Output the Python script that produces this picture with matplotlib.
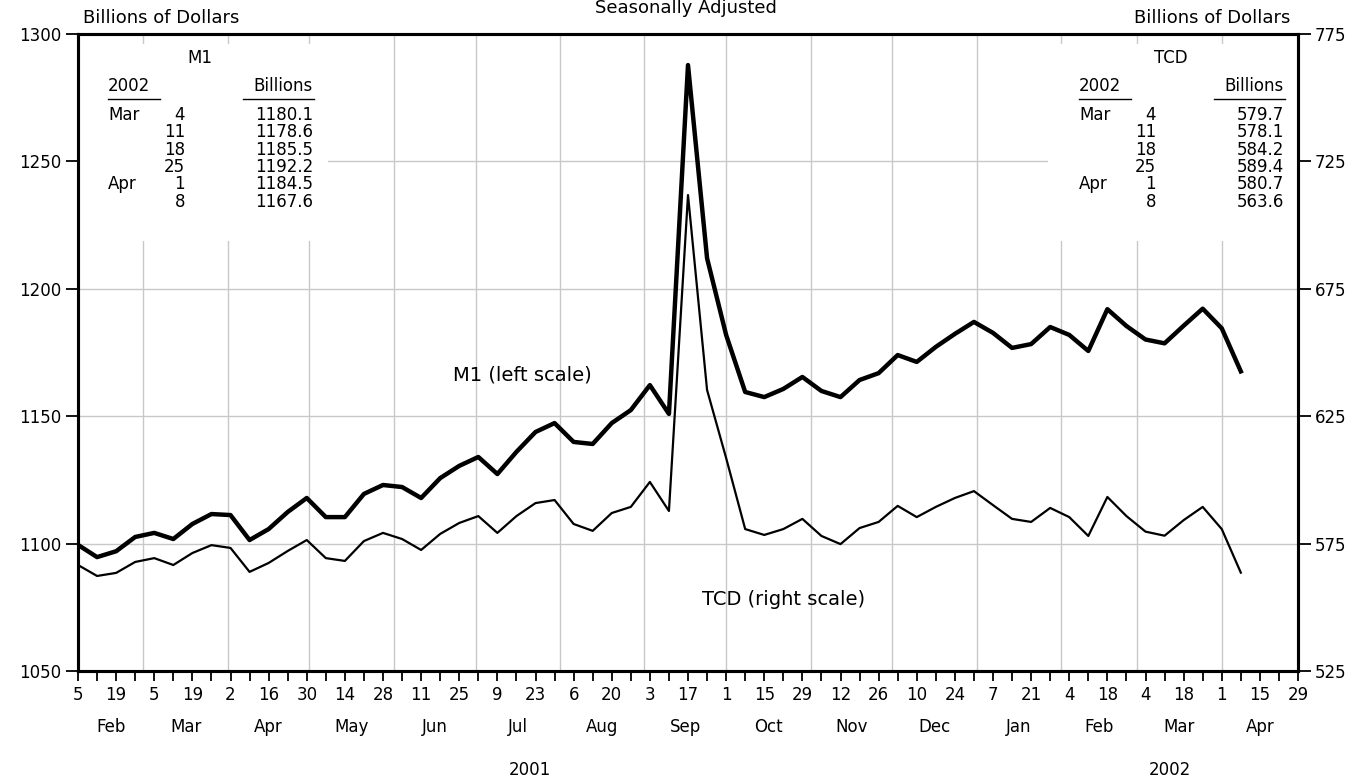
import numpy as np
import matplotlib.pyplot as plt
import matplotlib.dates as mdates
from matplotlib.patches import Rectangle
import datetime as dt

# weekly data, Feb 5 2001 .. Apr 8 2002
M1 = [1099.5, 1094.7, 1097.0, 1102.6, 1104.2, 1101.8, 1107.7, 1111.6, 1111.2, 1101.4,
      1105.7, 1112.4, 1117.9, 1110.4, 1110.4, 1119.5, 1123.0, 1122.2, 1117.9, 1125.7,
      1130.5, 1134.0, 1127.3, 1136.0, 1143.8, 1147.3, 1139.9, 1139.1, 1147.3, 1152.4,
      1162.2, 1150.9, 1287.8, 1212.0, 1181.9, 1159.5, 1157.5, 1160.7, 1165.4, 1159.9,
      1157.5, 1164.2, 1166.9, 1174.0, 1171.3, 1177.2, 1182.3, 1187.0, 1182.7, 1176.8,
      1178.3, 1185.0, 1181.9, 1175.6, 1192.0, 1185.4, 1180.1, 1178.6, 1185.5, 1192.2,
      1184.5, 1167.6]
TCD = [566.6, 562.3, 563.5, 567.8, 569.3, 566.6, 571.3, 574.4, 573.3, 563.9,
       567.4, 572.1, 576.4, 569.3, 568.2, 576.0, 579.2, 576.8, 572.5, 578.8,
       583.1, 585.8, 579.2, 585.8, 590.9, 592.1, 582.7, 580.0, 587.0, 589.4,
       599.2, 587.8, 711.8, 635.3, 608.6, 580.7, 578.4, 580.7, 584.7, 578.0,
       574.8, 581.1, 583.5, 589.8, 585.4, 589.4, 592.9, 595.6, 590.1, 584.7,
       583.5, 589.0, 585.4, 578.0, 593.3, 585.8, 579.7, 578.1, 584.2, 589.4,
       580.7, 563.6]
START = dt.date(2001, 2, 5)
dates = [START + dt.timedelta(weeks=i) for i in range(len(M1))]

M1_TABLE = [("Mar", "4", "1180.1"), ("", "11", "1178.6"), ("", "18", "1185.5"),
            ("", "25", "1192.2"), ("Apr", "1", "1184.5"), ("", "8", "1167.6")]
TCD_TABLE = [("Mar", "4", "579.7"), ("", "11", "578.1"), ("", "18", "584.2"),
             ("", "25", "589.4"), ("Apr", "1", "580.7"), ("", "8", "563.6")]

plt.rcParams['font.family'] = ['DejaVu Sans']
W, H = 1372, 782
fig = plt.figure(figsize=(W / 100, H / 100), dpi=100)
ax = fig.add_axes([78 / W, 1 - 671 / H, 1220 / W, 637 / H])
ax2 = ax.twinx()

x0 = mdates.date2num(START)
x1 = mdates.date2num(START + dt.timedelta(weeks=64))
ax.set_xlim(x0, x1)
ax.set_ylim(1050, 1300)
ax2.set_ylim(525, 775)

ax.plot(dates, M1, color="black", lw=3.2, zorder=5)
ax2.plot(dates, TCD, color="black", lw=1.6, zorder=5)

# gridlines
for v in [1100, 1150, 1200, 1250]:
    ax.axhline(v, color="#c8c8c8", lw=1, zorder=0)
d = dt.date(2001, 3, 1)
while d < dt.date(2002, 5, 1):
    ax.axvline(mdates.date2num(d), color="#c8c8c8", lw=1, zorder=0)
    d = dt.date(d.year + (d.month == 12), d.month % 12 + 1, 1)

# white boxes behind tables
ax.add_patch(Rectangle((0.0, 0.675), 0.205, 0.31, transform=ax.transAxes,
                       facecolor="white", edgecolor="none", zorder=1))
ax.add_patch(Rectangle((0.795, 0.675), 0.205, 0.31, transform=ax.transAxes,
                       facecolor="white", edgecolor="none", zorder=1))

# ticks
week_ticks = [x0 + 7 * i for i in range(65)]
ax.set_xticks(week_ticks)
labels = []
for i in range(65):
    dd = START + dt.timedelta(weeks=i)
    labels.append(str(dd.day) if i % 2 == 0 else "")
ax.set_xticklabels(labels, fontsize=12)
ax.tick_params(axis="x", direction="out", length=7, width=1.3, pad=4)
ax.set_yticks([1050, 1100, 1150, 1200, 1250, 1300])
ax.set_yticklabels(["1050", "1100", "1150", "1200", "1250", "1300"], fontsize=12)
ax2.set_yticks([525, 575, 625, 675, 725, 775])
ax2.set_yticklabels(["525", "575", "625", "675", "725", "775"], fontsize=12)
for a in (ax, ax2):
    a.tick_params(axis="y", direction="out", length=9, width=1.3, pad=3)
    for s in a.spines.values():
        s.set_linewidth(2.2)

# month labels
months = ["Feb", "Mar", "Apr", "May", "Jun", "Jul", "Aug", "Sep", "Oct", "Nov",
          "Dec", "Jan", "Feb", "Mar", "Apr"]
for k, m in enumerate(months):
    y = 2001 + (k + 1) // 12
    mo = (k + 1) % 12 + 1
    a = max(mdates.date2num(dt.date(y, mo, 1)), x0)
    ny, nm = (y + 1, 1) if mo == 12 else (y, mo + 1)
    b = min(mdates.date2num(dt.date(ny, nm, 1)), x1)
    ax.text((a + b) / 2, -0.088, m, transform=ax.get_xaxis_transform(),
            ha="center", va="center", fontsize=12)
ax.text(0.37, -0.155, "2001", transform=ax.transAxes, ha="center", va="center", fontsize=12)
ax.text(0.895, -0.155, "2002", transform=ax.transAxes, ha="center", va="center", fontsize=12)

# headers
fig.text(83 / W, 1 - 18 / H, "Billions of Dollars", fontsize=13, va="center")
fig.text(1290 / W, 1 - 18 / H, "Billions of Dollars", fontsize=13, va="center", ha="right")
fig.text(0.5, 1 - 8 / H, "Seasonally Adjusted", fontsize=13, va="center", ha="center")

# series labels
ax.text(mdates.date2num(dt.date(2001, 7, 18)), 1166, "M1 (left scale)", fontsize=14,
        ha="center", va="center", zorder=6)
ax.text(mdates.date2num(dt.date(2001, 10, 22)), 1078, "TCD (right scale)", fontsize=14,
        ha="center", va="center", zorder=6)

def draw_table(xl, title, rows):
    # xl: axes x of the left edge of the table
    tr = ax.transAxes
    def px(dx):
        return xl + dx / 1220
    def py(y):
        return 1 - (y - 34) / 637
    ax.text(px(122), py(58), title, transform=tr, ha="center", va="center", fontsize=12, zorder=3)
    ax.text(px(30), py(86), "2002", transform=tr, ha="left", va="center", fontsize=12, zorder=3)
    ax.text(px(235), py(86), "Billions", transform=tr, ha="right", va="center", fontsize=12, zorder=3)
    ax.plot([px(30), px(82)], [py(99), py(99)], transform=tr, color="black", lw=1, zorder=3)
    ax.plot([px(165), px(236)], [py(99), py(99)], transform=tr, color="black", lw=1, zorder=3)
    for r, (mo, day, val) in enumerate(rows):
        y = py(115 + r * 17.3)
        ax.text(px(30), y, mo, transform=tr, ha="left", va="center", fontsize=12, zorder=3)
        ax.text(px(107), y, day, transform=tr, ha="right", va="center", fontsize=12, zorder=3)
        ax.text(px(235), y, val, transform=tr, ha="right", va="center", fontsize=12, zorder=3)

draw_table(0.0, "M1", M1_TABLE)
draw_table((1045 - 78) / 1220 + 4 / 1220, "TCD", TCD_TABLE)

fig.savefig("out.png", dpi=100, facecolor="white")
